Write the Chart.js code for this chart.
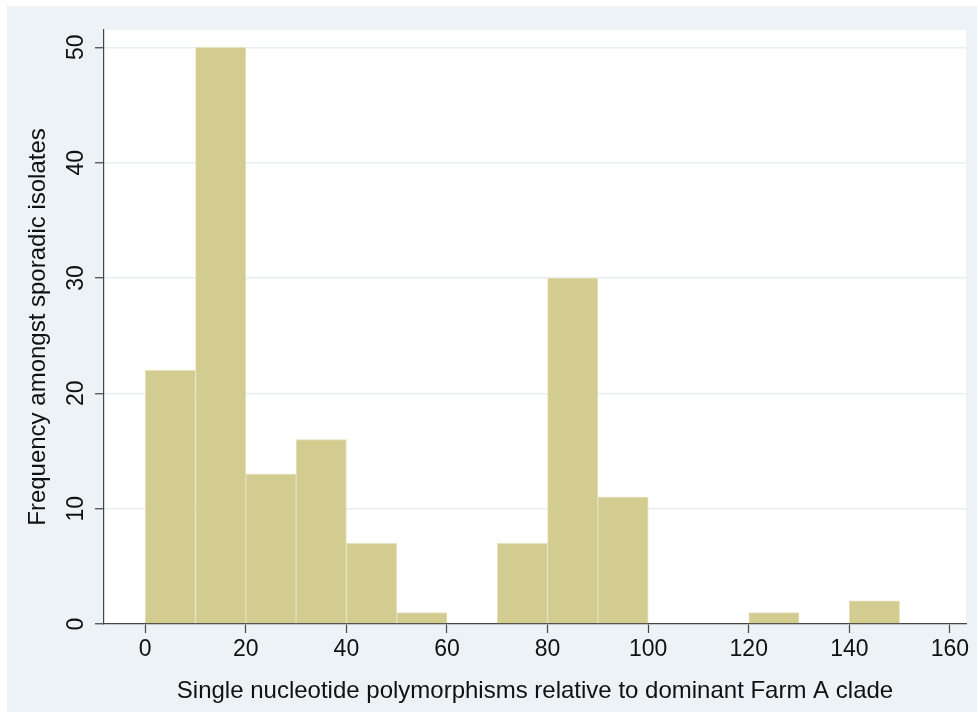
<!DOCTYPE html>
<html>
<head>
<meta charset="utf-8">
<script src="https://cdn.jsdelivr.net/npm/chart.js@4.4.1/dist/chart.umd.min.js"></script>
<style>
  html, body { margin: 0; padding: 0; background: #ffffff; }
  #wrap { position: relative; width: 978px; height: 718px; }
</style>
</head>
<body>
<div id="wrap"><canvas id="chart" width="978" height="718"></canvas></div>
<script>
// histogram bins (width 10) and counts
const binMids = [5, 15, 25, 35, 45, 55, 65, 75, 85, 95, 105, 115, 125, 135, 145];
const counts = [22, 50, 13, 16, 7, 1, 0, 7, 30, 11, 0, 0, 1, 0, 2];
const xTicks = [0, 20, 40, 60, 80, 100, 120, 140, 160];
const yTicks = [0, 10, 20, 30, 40, 50];

const FONT = 'Liberation Sans, Arial, Helvetica, sans-serif';
const ink = '#111111';

// Stata-ish background: light frame with white plot region
const backdrop = {
    id: 'backdrop',
    beforeDraw(chart) {
        const { ctx, chartArea } = chart;
        ctx.save();
        ctx.fillStyle = '#ffffff';
        ctx.fillRect(0, 0, chart.width, chart.height);
        ctx.fillStyle = '#ecf2f5';
        ctx.fillRect(7, 6, 970, 706);
        ctx.fillStyle = '#ffffff';
        ctx.fillRect(chartArea.left, chartArea.top, chartArea.right - chartArea.left, chartArea.bottom - chartArea.top);
        ctx.restore();
    },
};

const ctx = document.getElementById('chart');

new Chart(ctx, {
    type: 'bar',
    data: {
        datasets: [
            {
                data: binMids.map((x, i) => ({ x: x, y: counts[i] })),
                backgroundColor: 'rgb(211,204,145)',
                borderColor: 'rgb(229,225,186)',
                borderWidth: 1,
                borderSkipped: 'start',
                barPercentage: 1,
                categoryPercentage: 1,
            },
        ],
    },
    options: {
        responsive: false,
        animation: false,
        layout: { padding: { top: 30, right: 12, left: 0, bottom: 0 } },
        plugins: { legend: { display: false }, tooltip: { enabled: false } },
        scales: {
            x: {
                type: 'linear',
                offset: false,
                min: -8.2,
                max: 163.2,
                afterFit(scale) { scale.height = 94; },
                afterBuildTicks(scale) { scale.ticks = xTicks.map((v) => ({ value: v })); },
                grid: { offset: false, drawOnChartArea: false, tickLength: 9, tickColor: '#444', tickWidth: 1.2 },
                border: { color: '#444', width: 1.2 },
                ticks: { color: ink, font: { family: FONT, size: 23 }, padding: 3, maxRotation: 0 },
                title: {
                    display: true,
                    text: 'Single nucleotide polymorphisms relative to dominant Farm A clade',
                    color: ink,
                    font: { family: FONT, size: 24 },
                    padding: { top: 0, bottom: 12 },
                },
            },
            y: {
                min: 0,
                max: 51.5,
                afterFit(scale) { scale.width = 104; },
                afterBuildTicks(scale) { scale.ticks = yTicks.map((v) => ({ value: v })); },
                grid: { color: '#e8eff3', lineWidth: 1.5, tickLength: 9, tickColor: '#444', tickWidth: 1.2 },
                border: { color: '#444', width: 1.2 },
                ticks: {
                    color: ink,
                    font: { family: FONT, size: 23 },
                    padding: 6,
                    minRotation: 90,
                    maxRotation: 90,
                    crossAlign: 'center',
                },
                title: {
                    display: true,
                    text: 'Frequency amongst sporadic isolates',
                    color: ink,
                    font: { family: FONT, size: 24 },
                    padding: { top: 24, bottom: 0 },
                },
            },
        },
    },
    plugins: [backdrop],
});
</script>
</body>
</html>
